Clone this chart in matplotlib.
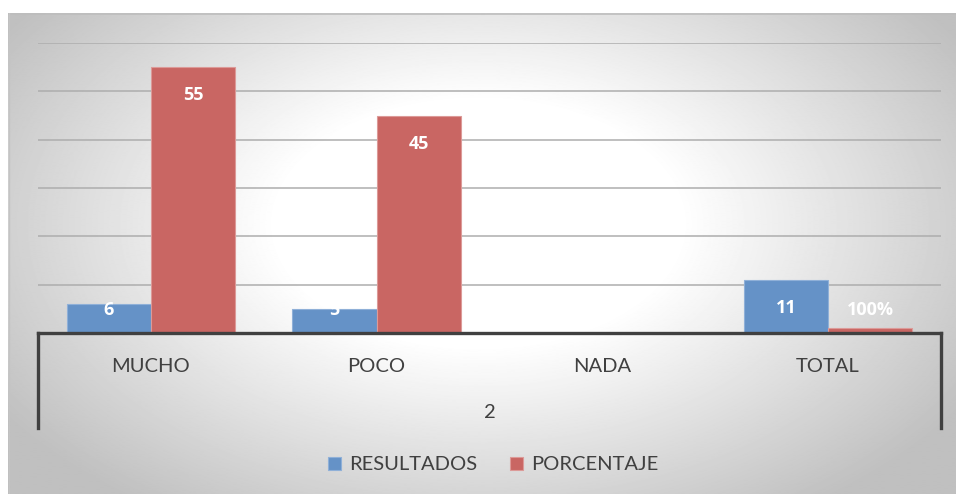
import numpy as np
import matplotlib.pyplot as plt

categorias = ["MUCHO", "POCO", "NADA", "TOTAL"]
resultados = [6, 5, 0, 11]
porcentaje = [55, 45, 0, 1]
etiquetas_res = ["6", "5", "", "11"]
etiquetas_por = ["55", "45", "", "100%"]
grupo = "2"

azul = "#6592c7"
rojo = "#c96663"
fuente = ["Lato", "DejaVu Sans"]
fuente_b = ["Open Sans", "DejaVu Sans"]

fig = plt.figure(figsize=(9.56, 4.95), dpi=100)
W, H = 956, 495

# fondo con degradado radial (zona del gráfico)
fondo = fig.add_axes([8 / W, 1 / H, 1 - 8 / W, (H - 14) / H])
yy, xx = np.mgrid[0:480, 0:948]
d = np.sqrt(((xx - 470) / 560.0) ** 2 + ((yy - 210) / 340.0) ** 2)
gris = 1 - 0.25 * np.clip((d - 0.36) / 0.66, 0, 1) ** 1.0
fondo.imshow(gris, cmap="gray", vmin=0, vmax=1, aspect="auto", interpolation="bilinear")
fondo.set_axis_off()
fondo.plot([0, 948], [0.5, 0.5], color="#bdbdbd", lw=1.2)
fondo.plot([0.5, 0.5], [0, 480], color="#c4c4c4", lw=1)
fondo.set_xlim(0, 947)
fondo.set_ylim(479, 0)

x0, x1 = 38, 941
yb, yt = 333, 43
ax = fig.add_axes([x0 / W, (H - yb) / H, (x1 - x0) / W, (yb - yt) / H])
ax.patch.set_alpha(0)
ax.set_ylim(0, 60)
ax.set_xlim(-0.5, len(categorias) - 0.5)
ax.set_yticks(range(10, 61, 10))
ax.yaxis.grid(True, color="#adadad", lw=1.1)
ax.set_axisbelow(True)
ax.tick_params(left=False, labelleft=False, bottom=False, labelbottom=False)
for s in ax.spines.values():
    s.set_visible(False)

x = np.arange(len(categorias))
w = 0.373
b1 = ax.bar(x - w / 2, resultados, w, color=azul, edgecolor="#8fb0d8", lw=0.8, label="RESULTADOS", zorder=2)
b2 = ax.bar(x + w / 2, porcentaje, w, color=rojo, edgecolor="#dc9a98", lw=0.8, label="PORCENTAJE", zorder=2)

for barras, textos in [(b1, etiquetas_res), (b2, etiquetas_por)]:
    for r, t in zip(barras, textos):
        if not t:
            continue
        v = r.get_height()
        ypos = max(v - 5.8, 4.7)
        ax.text(r.get_x() + r.get_width() / 2, ypos, t, ha="center", va="center",
                color="white", fontsize=13, fontweight="bold", family=fuente_b, zorder=3)

# eje de categorías con dos niveles
ov = fig.add_axes([0, 0, 1, 1])
ov.set_xlim(0, W)
ov.set_ylim(H, 0)
ov.set_axis_off()
ov.patch.set_alpha(0)
ov.plot([x0, x1], [yb, yb], color="#404040", lw=2.4, solid_capstyle="projecting")
ov.plot([x0, x0], [yb, 428], color="#404040", lw=2.4)
ov.plot([x1, x1], [yb, 428], color="#404040", lw=2.4)
paso = (x1 - x0) / len(categorias)
for i, c in enumerate(categorias):
    ov.text(x0 + paso * (i + 0.5), 367, c, ha="center", va="center",
            fontsize=14.5, color="#404040", family=fuente)
ov.text((x0 + x1) / 2, 413, grupo, ha="center", va="center", fontsize=14.5,
        color="#404040", family=fuente)

leg = fig.legend(handles=[b1, b2], loc="center", bbox_to_anchor=(493 / W, (H - 465) / H),
                 ncol=2, frameon=False, handlelength=0.65, handleheight=0.65,
                 handletextpad=0.4, columnspacing=1.6, prop={"family": fuente, "size": 14.5})
for t in leg.get_texts():
    t.set_color("#404040")

fig.savefig("out.png", dpi=100)
